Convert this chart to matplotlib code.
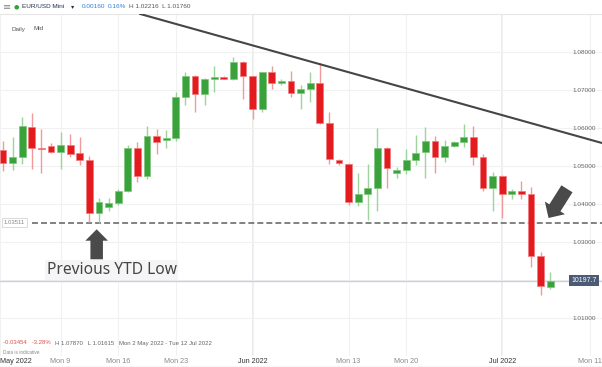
import numpy as np
import matplotlib.pyplot as plt
import matplotlib.transforms as mtransforms
from matplotlib.lines import Line2D

plt.rcParams['font.family'] = ['Liberation Sans', 'DejaVu Sans']

# daily EUR/USD Mini candles, index 0 = Mon 2 May 2022 (Sunday sessions included)
opens = [1.05413, 1.05079, 1.05229, 1.06034, 1.05482, 1.05534, 1.05361, 1.05561, 1.05334, 1.05158,
         1.03771, 1.03913, 1.04034, 1.04342, 1.05482, 1.04737, 1.05789, 1.05684, 1.05745, 1.06824,
         1.07376, 1.06895, 1.07282, 1.07334, 1.07282, 1.07737, 1.07368, 1.06508, 1.07466, 1.07184,
         1.07229, 1.06929, 1.07034, 1.07176, 1.06140, 1.05158, 1.05061, 1.04053, 1.04255, 1.04413,
         1.05466, 1.04816, 1.04882, 1.05158, 1.05361, 1.05666, 1.05245, 1.05526, 1.05632, 1.05771,
         1.05245, 1.04413, 1.04737, 1.04255, 1.04350, 1.04255, 1.02640, 1.01817]
highs = [1.05666, 1.05755, 1.06282, 1.06387, 1.05974, 1.05613, 1.05903, 1.05842, 1.05755, 1.05263,
         1.04166, 1.04158, 1.04403, 1.05545, 1.05624, 1.06053, 1.05966, 1.05947, 1.06939, 1.07466,
         1.07395, 1.07303, 1.07632, 1.07376, 1.07870, 1.07760, 1.07380, 1.07482, 1.07632, 1.07282,
         1.07508, 1.07132, 1.07466, 1.07718, 1.06413, 1.05176, 1.05079, 1.04824, 1.05053, 1.05992,
         1.05500, 1.04982, 1.05440, 1.05808, 1.06018, 1.05789, 1.05684, 1.05645, 1.06118, 1.06058,
         1.05316, 1.04855, 1.04755, 1.04382, 1.04605, 1.04440, 1.02745, 1.02216]
lows = [1.04868, 1.04895, 1.05053, 1.04913, 1.04824, 1.05334, 1.04929, 1.05245, 1.05018, 1.03534,
        1.03508, 1.03824, 1.03974, 1.04324, 1.04579, 1.04650, 1.05316, 1.05466, 1.05658, 1.06605,
        1.06413, 1.06605, 1.06955, 1.07282, 1.07255, 1.06771, 1.06245, 1.06429, 1.07026, 1.07132,
        1.06824, 1.06508, 1.06697, 1.06097, 1.05045, 1.05026, 1.03974, 1.03947, 1.03579, 1.03816,
        1.04434, 1.04697, 1.04797, 1.05026, 1.04692, 1.04824, 1.05097, 1.05513, 1.05492, 1.05026,
        1.04342, 1.03816, 1.03632, 1.04132, 1.04132, 1.02334, 1.01615, 1.01760]
closes = [1.05087, 1.05229, 1.06053, 1.05482, 1.05440, 1.05361, 1.05561, 1.05324, 1.05158, 1.03771,
          1.04053, 1.04034, 1.04350, 1.05482, 1.04729, 1.05789, 1.05632, 1.05745, 1.06808, 1.07368,
          1.06895, 1.07282, 1.07334, 1.07290, 1.07737, 1.07368, 1.06508, 1.07466, 1.07184, 1.07245,
          1.06929, 1.07034, 1.07176, 1.06140, 1.05176, 1.05071, 1.04045, 1.04255, 1.04413, 1.05466,
          1.04939, 1.04895, 1.05158, 1.05355, 1.05666, 1.05245, 1.05526, 1.05632, 1.05771, 1.05245,
          1.04413, 1.04737, 1.04255, 1.04350, 1.04255, 1.02640, 1.01850, 1.01977]

date_pos = [-0.3, 6, 12, 18, 26, 36, 42, 52, 61.1]
date_labels = ['May 2022', 'Mon 9', 'Mon 16', 'Mon 23', 'Jun 2022', 'Mon 13', 'Mon 20', 'Jul 2022', 'Mon 11']
price_ticks = [1.01, 1.02, 1.03, 1.04, 1.05, 1.06, 1.07, 1.08]

ytd_low = 1.03511
last_price = 1.01977
trend_x = [14.3, 62.4]
trend_y = [1.0900, 1.05605]

W, H = 602, 367
fig = plt.figure(figsize=(W / 100, H / 100), dpi=100)
fig.patch.set_facecolor('white')
ax = fig.add_axes([0, 11 / H, 1, (356 - 14) / H])
ax.set_xlim(-0.31, 62.4)
ax.set_ylim(1.0000, 1.0900)
for s in ['left', 'right', 'bottom']:
    ax.spines[s].set_visible(False)
ax.spines['top'].set_color('#e6e6e6')

# grid
ax.set_yticks(price_ticks)
ax.set_yticklabels(['%.5f' % p if p != 1.02 else '' for p in price_ticks])
ax.yaxis.tick_right()
ax.tick_params(axis='y', length=0, pad=-21, labelsize=4.6, labelcolor='#666666')
ax.set_xticks(date_pos)
ax.set_xticklabels(date_labels)
ax.tick_params(axis='x', length=0, pad=1.2, labelsize=5.2, labelcolor='#8a8a8a')
for lab in ax.get_xticklabels():
    if '2022' in lab.get_text():
        lab.set_color('#333333')
ax.get_xticklabels()[0].set_ha('left')
ax.grid(True, color='#f1f1f1', lw=0.8, zorder=0)
for i, lab in enumerate(date_labels):
    if '2022' in lab and date_pos[i] > 0:
        ax.axvline(date_pos[i], color='#e8e8e8', lw=1.2, zorder=0.5)
ax.set_axisbelow(True)

# current price line
ax.axhline(last_price, color='#c9d1df', lw=1, zorder=1)

# previous YTD low
ax.hlines(ytd_low, 3.0, 62.4, colors='#5f5f5f', lw=1.1, linestyles=(0, (3.9, 2.0)), zorder=1.5)
ax.text(1.2, ytd_low, '%.5f' % ytd_low, fontsize=4.3, color='#888888', ha='center', va='center',
        bbox=dict(boxstyle='square,pad=0.35', fc='white', ec='#d5d5d5', lw=0.6), zorder=3)

# candles
x = np.arange(len(opens))
o = np.array(opens)
c = np.array(closes)
up = c >= o
body_col = np.where(up, '#3aa23a', '#e31b1f')
wick_col = np.where(up, '#9dd49d', '#f29a9a')
edge_col = np.where(up, '#7cc77c', '#f07a7c')
ax.vlines(x, lows, highs, colors=wick_col, lw=1, zorder=2)
heights = np.maximum(np.abs(c - o), 0.0004)
bottoms = np.minimum(o, c) - (heights - np.abs(c - o)) / 2
ax.bar(x, heights, bottom=bottoms, width=0.72, color=body_col, edgecolor=edge_col, lw=0.5, zorder=2.5)

# trend line
ax.plot(trend_x, trend_y, color='#454545', lw=1.5, zorder=3, clip_on=True)

# arrows
arrow_style = 'simple,head_length=0.82,head_width=1.63,tail_width=0.9'
ax.annotate('', xy=(9.76, 1.03334), xytext=(9.76, 1.02545),
            arrowprops=dict(arrowstyle=arrow_style, fc='#4a4a4a', ec='none', lw=0,
                            shrinkA=0, shrinkB=0, mutation_scale=10), zorder=4)
ax.annotate('', xy=(56.83, 1.03632), xytext=(58.75, 1.04400),
            arrowprops=dict(arrowstyle=arrow_style, fc='#4a4a4a', ec='none', lw=0,
                            shrinkA=0, shrinkB=0, mutation_scale=10.5), zorder=4)
ax.text(11.35, 1.02263, 'Previous YTD Low', fontsize=11.2, color='#444444', ha='center', va='center',
        family=['Noto Sans', 'DejaVu Sans'],
        bbox=dict(boxstyle='square,pad=0.1', fc='#f5f5f5', ec='none'), zorder=4)

# last price box
blend = mtransforms.blended_transform_factory(ax.transAxes, ax.transData)
ax.text(584 / W, last_price, '10197.7', transform=blend, fontsize=5, color='white', ha='center',
        va='center', bbox=dict(boxstyle='square,pad=0.3', fc='#4b5b74', ec='none'), zorder=5)

# header and footer texts
def ft(px, py, s, **kw):
    fig.text(px / W, 1 - py / H, s, va='center', **kw)

ft(3, 7, '\u2261', fontsize=7, color='#888888', family=['DejaVu Sans'])
ft(14, 7, '\u25cf', fontsize=4.5, color='#3aa23a', family=['DejaVu Sans'])
ft(22, 7, 'EUR/USD Mini', fontsize=4.6, color='#1f2d4d')
ft(71, 7, '\u25be', fontsize=4.6, color='#1f2d4d', family=['DejaVu Sans'])
ft(82, 7, '0.00160', fontsize=4.6, color='#2f7fd8')
ft(108, 7, '0.16%', fontsize=4.6, color='#2f7fd8')
ft(129, 7, 'H 1.02216  L 1.01760', fontsize=4.6, color='#555555')
ft(12, 29, 'Daily', fontsize=4.5, color='#555555')
ft(33, 29, 'Mid', fontsize=4.5, color='#555555')
ft(3, 343, '-0.03454   -3.28%', fontsize=4.3, color='#e05050')
ft(55, 343, 'H 1.07870   L 1.01615   Mon 2 May 2022 - Tue 12 Jul 2022', fontsize=4.3, color='#666666')
ft(3, 352, 'Data is indicative', fontsize=3.4, color='#888888')
fig.add_artist(Line2D([0, 1], [0.5 / H, 0.5 / H], color='#d8d8d8', lw=1))

fig.savefig('out.png', dpi=100)
